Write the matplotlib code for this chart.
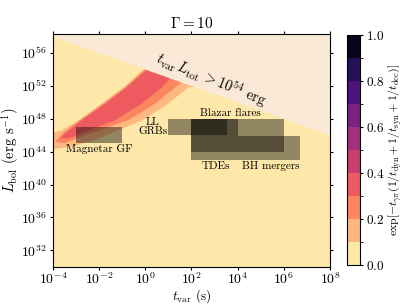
import numpy as np
import matplotlib as mpl
mpl.use("Agg")
import matplotlib.pyplot as plt
from matplotlib.colors import BoundaryNorm, ListedColormap

plt.rcParams.update({
    "font.family": "serif",
    "font.serif": ["cmr10"],
    "mathtext.fontset": "cm",
    "axes.formatter.use_mathtext": True,
    "font.size": 9,
})

gamma = 10
E_max = 1e54  # erg
levels = np.linspace(0.0, 1.0, 11)

# contour outlines of the suppression factor, as (log10 t_var, log10 L_bol)
# each outline: upper-left edge then lower-right edge going back
band_levels = [0.1, 0.2, 0.3]
band_logt = [
    [-4.0, -3.6, -2.9, -1.9, -0.95, -0.15, 0.6,
     2.8, 2.15, 1.85, 0.98, -0.14, -2.18, -3.2, -4.0],
    [-3.9, -3.55, -2.83, -1.83, -0.88, -0.08, 0.7,
     2.2, 1.58, 1.29, 0.42, -0.75, -2.74, -3.5],
    [-3.7, -3.48, -2.76, -1.75, -0.81, -0.01, 0.8,
     1.6, 1.07, 0.72, -0.16, -1.31, -2.76, -3.3],
]
band_logL = [
    [46.3, 46.6, 47.8, 49.8, 51.8, 53.8, 55.5,
     53.4, 51.85, 51.79, 49.79, 47.8, 45.41, 44.6, 44.3],
    [45.2, 46.3, 47.8, 49.8, 51.8, 53.8, 55.5,
     53.8, 52.42, 51.79, 49.79, 47.8, 45.85, 45.0],
    [45.6, 46.21, 47.8, 49.79, 51.79, 53.77, 55.5,
     54.4, 52.93, 51.8, 49.79, 47.8, 46.21, 45.6],
]

# source classes: variability time (s) and luminosity (erg/s) ranges
src_names = ["Magnetar GF", "LL\nGRBs", "Blazar flares", "TDEs", "BH mergers"]
src_t_lo = [1e-3, 1e1, 1e2, 1e2, 1e4]
src_t_hi = [1e-1, 3.5e3, 1e6, 1e4, 5e6]
src_L_lo = [1e45, 1e46, 1e44, 1e43, 1e43]
src_L_hi = [1e47, 8e47, 1e48, 1e48, 8.5e45]
# label anchors
src_label_t = [1e-2, 8.7, 4.7e3, 1.15e3, 2.8e5]
src_label_L = [2.1e44, 1.1e47, 4e48, 1.7e42, 1.7e42]
src_label_ha = ["center", "right", "center", "center", "center"]

cmap = ListedColormap(plt.get_cmap("magma_r")((levels[:-1] + levels[1:]) / 2))
norm = BoundaryNorm(levels, cmap.N)

fig = plt.figure(figsize=(4.07, 3.05), dpi=100)
ax = fig.add_axes([0.1302, 0.125, 0.6806, 0.7635])
cax = fig.add_axes([0.8533, 0.131, 0.0312, 0.7543])

ax.set_xscale("log")
ax.set_yscale("log")
ax.set_xlim(1e-4, 1e8)
ax.set_ylim(1e30, 1.9e58)
ax.set_facecolor(cmap(norm(0.05)))

for lev, lt, lL in zip(band_levels, band_logt, band_logL):
    ax.fill(10 ** np.array(lt), 10 ** np.array(lL), color=cmap(norm(lev + 0.05)),
            lw=0, zorder=1)

t = np.logspace(-4, 8, 50)
ax.fill_between(t, E_max / t, 1e60, color="#f9e9d6", lw=0, zorder=2)
ax.text(10 ** 2.85, 10 ** 52.75, r"$t_{\rm var}\,L_{\rm tot}\, >10^{54}$ erg",
        rotation=-22, ha="center", va="center", fontsize=10.5, zorder=5)

for i in range(len(src_names)):
    ax.fill_between([src_t_lo[i], src_t_hi[i]], src_L_lo[i], src_L_hi[i],
                    color="k", alpha=0.42, lw=0, zorder=3)
    ax.text(src_label_t[i], src_label_L[i], src_names[i], ha=src_label_ha[i],
            va="center", multialignment="center", fontsize=8, zorder=5,
            linespacing=1.0)

ax.set_xticks([10.0 ** k for k in range(-4, 9, 2)])
ax.set_yticks([10.0 ** k for k in range(32, 57, 4)])
ax.minorticks_off()
ax.tick_params(top=True, right=True, labeltop=False, labelright=False,
               labelsize=10, length=2.5, pad=2)
ax.tick_params(axis="x", pad=1)
ax.set_xlabel(r"$t_{\rm var}$ (s)", fontsize=9.5, labelpad=0)
ax.set_ylabel(r"$L_{\rm bol}$ (erg s$^{-1}$)", fontsize=10.5, labelpad=0)
ax.set_title(r"$\Gamma = %d$" % gamma, fontsize=11, pad=4)

sm = mpl.cm.ScalarMappable(norm=norm, cmap=cmap)
cb = fig.colorbar(sm, cax=cax, ticks=np.linspace(0, 1, 6))
cb.ax.tick_params(labelsize=9.5, length=2.5, pad=2)
cb.set_label(r"$\exp[-t_{\gamma\pi}(1/t_{\rm dyn}+1/t_{\rm syn}+1/t_{\rm dec})]$",
             fontsize=8.5, labelpad=1)

fig.savefig("out.png", dpi=100)
